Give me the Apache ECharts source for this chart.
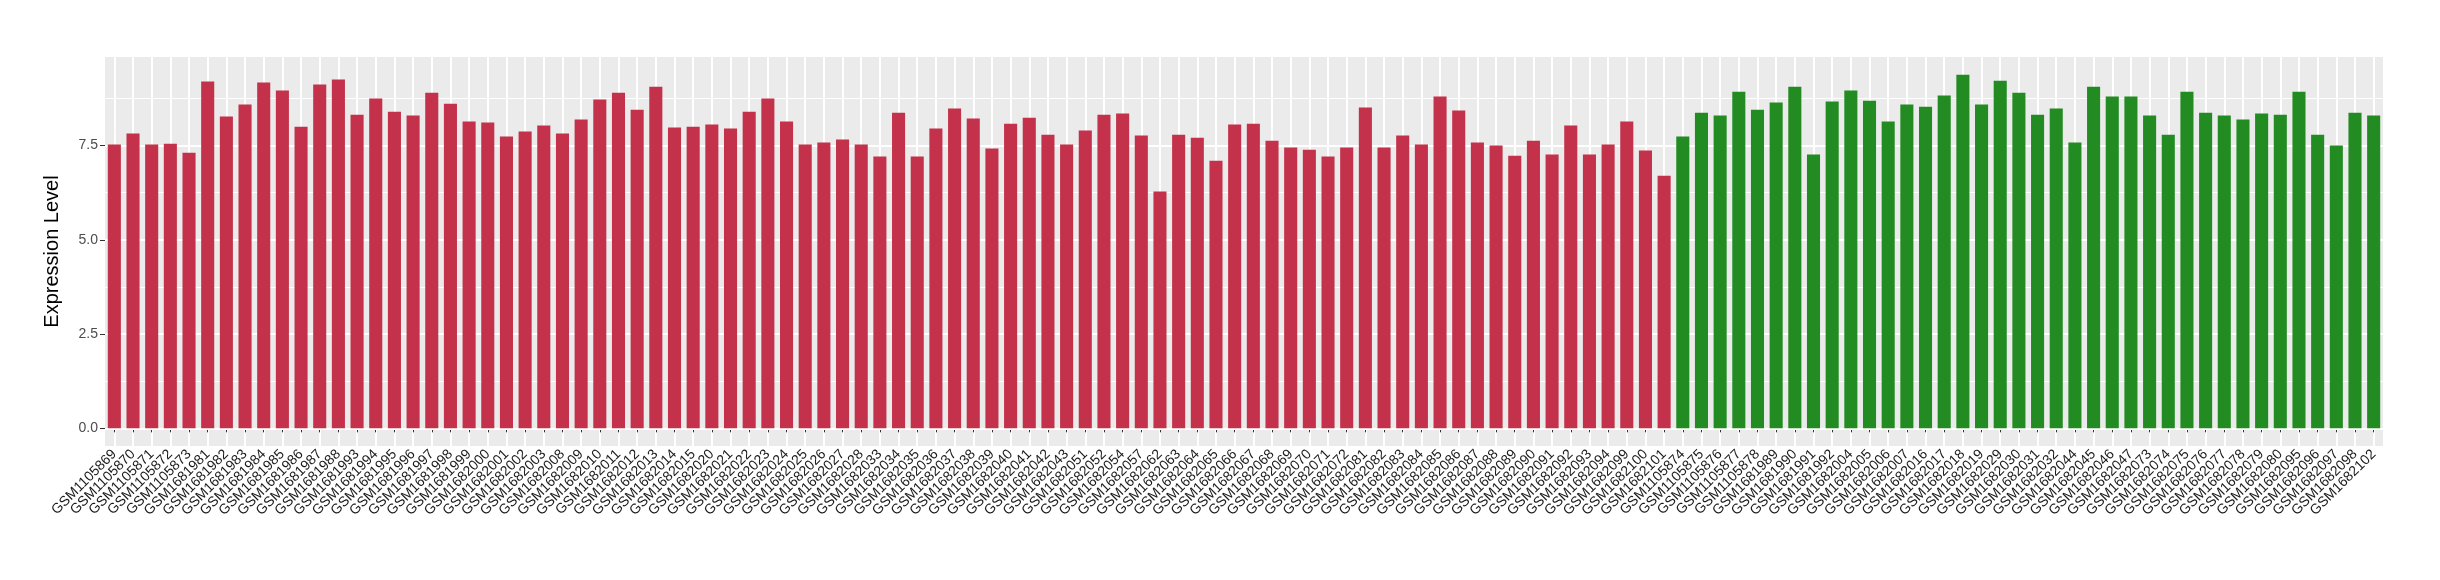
<!DOCTYPE html>
<html>
<head>
<meta charset="utf-8">
<script src="https://cdn.jsdelivr.net/npm/echarts@6/dist/echarts.min.js"></script>
<style>
  html, body { margin: 0; padding: 0; background: #fff; }
  #chart { width: 2440px; height: 580px; }
</style>
</head>
<body>
<div id="chart"></div>
<script>
// samples of the first group (red)
const redSamples = [
  'GSM1105869', 'GSM1105870', 'GSM1105871', 'GSM1105872', 'GSM1105873',
  'GSM1681981', 'GSM1681982', 'GSM1681983', 'GSM1681984', 'GSM1681985', 'GSM1681986', 'GSM1681987', 'GSM1681988',
  'GSM1681993', 'GSM1681994', 'GSM1681995', 'GSM1681996', 'GSM1681997', 'GSM1681998', 'GSM1681999',
  'GSM1682000', 'GSM1682001', 'GSM1682002', 'GSM1682003',
  'GSM1682008', 'GSM1682009', 'GSM1682010', 'GSM1682011', 'GSM1682012', 'GSM1682013', 'GSM1682014', 'GSM1682015',
  'GSM1682020', 'GSM1682021', 'GSM1682022', 'GSM1682023', 'GSM1682024', 'GSM1682025', 'GSM1682026', 'GSM1682027', 'GSM1682028',
  'GSM1682033', 'GSM1682034', 'GSM1682035', 'GSM1682036', 'GSM1682037', 'GSM1682038', 'GSM1682039', 'GSM1682040', 'GSM1682041', 'GSM1682042', 'GSM1682043',
  'GSM1682051', 'GSM1682052', 'GSM1682054', 'GSM1682057',
  'GSM1682062', 'GSM1682063', 'GSM1682064', 'GSM1682065', 'GSM1682066', 'GSM1682067', 'GSM1682068', 'GSM1682069', 'GSM1682070', 'GSM1682071', 'GSM1682072',
  'GSM1682081', 'GSM1682082', 'GSM1682083', 'GSM1682084', 'GSM1682085', 'GSM1682086', 'GSM1682087', 'GSM1682088', 'GSM1682089', 'GSM1682090', 'GSM1682091', 'GSM1682092', 'GSM1682093', 'GSM1682094',
  'GSM1682099', 'GSM1682100', 'GSM1682101'
]
const redValues = [
  7.53, 7.82, 7.53, 7.55, 7.31, 9.20, 8.27, 8.59, 9.17, 8.96, 8.00, 9.12, 9.25, 8.32, 8.75, 8.40, 8.30, 8.90, 8.61, 8.14, 8.11, 7.74, 7.87, 8.03,
  7.82, 8.19, 8.72, 8.90, 8.45, 9.06, 7.98, 8.00, 8.06, 7.95, 8.40, 8.75, 8.14, 7.53, 7.58, 7.66, 7.53, 7.21, 8.37, 7.21, 7.95, 8.48, 8.22, 7.42,
  8.08, 8.24, 7.79, 7.53, 7.90, 8.32, 8.35, 7.77, 6.28, 7.79, 7.71, 7.10, 8.06, 8.08, 7.63, 7.45, 7.39, 7.21, 7.45, 8.51, 7.45, 7.77, 7.53, 8.80, 8.43, 7.58, 7.50,
  7.23, 7.63, 7.26, 8.03, 7.26, 7.53, 8.14, 7.37, 6.70
]
// samples of the second group (green)
const greenSamples = [
  'GSM1105874', 'GSM1105875', 'GSM1105876', 'GSM1105877', 'GSM1105878',
  'GSM1681989', 'GSM1681990', 'GSM1681991', 'GSM1681992',
  'GSM1682004', 'GSM1682005', 'GSM1682006', 'GSM1682007',
  'GSM1682016', 'GSM1682017', 'GSM1682018', 'GSM1682019',
  'GSM1682029', 'GSM1682030', 'GSM1682031', 'GSM1682032',
  'GSM1682044', 'GSM1682045', 'GSM1682046', 'GSM1682047',
  'GSM1682073', 'GSM1682074', 'GSM1682075', 'GSM1682076', 'GSM1682077', 'GSM1682078', 'GSM1682079', 'GSM1682080',
  'GSM1682095', 'GSM1682096', 'GSM1682097', 'GSM1682098', 'GSM1682102'
]
const greenValues = [
  7.74, 8.37, 8.30, 8.93, 8.45, 8.64, 9.06, 7.26, 8.67, 8.96, 8.69, 8.14, 8.59, 8.53, 8.83, 9.38, 8.59, 9.22, 8.90, 8.32,
  8.48, 7.58, 9.06, 8.80, 8.80, 8.30, 7.79, 8.93, 8.37, 8.30, 8.19, 8.35, 8.32, 8.93, 7.79, 7.50, 8.37, 8.30
]
const yTicks = [0, 2.5, 5, 7.5]
const yMinorTicks = [1.25, 3.75, 6.25, 8.75]

const categories = redSamples.concat(greenSamples)
const redData = redValues.concat(greenSamples.map(() => '-'))
const greenData = redSamples.map(() => '-').concat(greenValues)

// ggplot style 5% expansion
const yMax = Math.max(...redValues, ...greenValues)
const pad = yMax * 0.05

const font = 'Liberation Sans, Arial, sans-serif'

const gridLines = yTicks.map(v => ({ yAxis: v, lineStyle: { width: 2 } }))
  .concat(yMinorTicks.map(v => ({ yAxis: v, lineStyle: { width: 1 } })))

const chart = echarts.init(document.getElementById('chart'))
chart.setOption({
  animation: false,
  grid: {
    left: 105,
    right: 57,
    top: 57,
    bottom: 134,
    show: true,
    backgroundColor: '#EBEBEB',
    borderWidth: 0
  },
  xAxis: {
    type: 'category',
    data: categories,
    axisLine: { show: false },
    axisTick: { show: true, alignWithLabel: true, length: 4, lineStyle: { color: '#333333', width: 1 } },
    splitLine: { show: true, alignWithLabel: true, interval: 0, lineStyle: { color: '#FFFFFF', width: 2 } },
    axisLabel: {
      interval: 0,
      rotate: 45,
      margin: 6,
      hideOverlap: false,
      color: '#1A1A1A',
      fontSize: 14,
      fontFamily: font
    }
  },
  yAxis: {
    type: 'value',
    min: -pad,
    max: yMax + pad,
    name: 'Expression Level',
    nameLocation: 'middle',
    nameGap: 43,
    nameTextStyle: { color: '#000000', fontSize: 20, fontFamily: font },
    axisLine: { show: false },
    axisTick: { show: true, length: 5, customValues: yTicks, lineStyle: { color: '#333333' } },
    splitLine: { show: false },
    axisLabel: {
      customValues: yTicks,
      margin: 7,
      color: '#4D4D4D',
      fontSize: 14,
      fontFamily: font,
      formatter: v => v.toFixed(1)
    }
  },
  series: [
    {
      type: 'bar',
      stack: 'all',
      data: redData,
      barCategoryGap: '30%',
      itemStyle: { color: '#C3314A' },
      markLine: {
        silent: true,
        z: 1,
        symbol: 'none',
        label: { show: false },
        lineStyle: { color: '#FFFFFF', type: 'solid' },
        data: gridLines
      }
    },
    {
      type: 'bar',
      stack: 'all',
      data: greenData,
      barCategoryGap: '30%',
      itemStyle: { color: '#228B22' }
    }
  ]
})
</script>
</body>
</html>
